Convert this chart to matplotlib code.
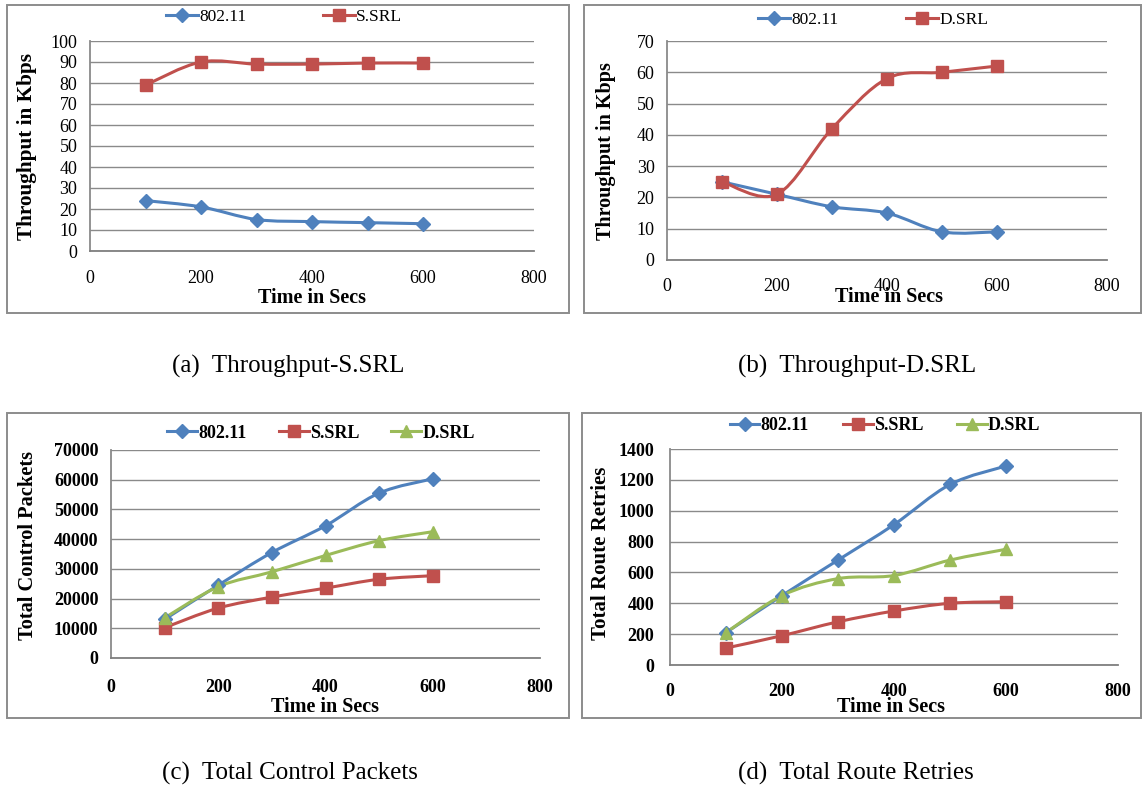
import numpy as np
import matplotlib
matplotlib.use('Agg')
import matplotlib.pyplot as plt
from matplotlib.path import Path
from matplotlib.patches import PathPatch, Rectangle

W, H = 1143, 792

# ---------------- data ----------------
time_secs = [100, 200, 300, 400, 500, 600]
x_ticks = [0, 200, 400, 600, 800]

tp_a_80211 = [24, 21, 15, 14, 13.5, 13]
tp_a_ssrl = [79, 90, 89, 89, 89.5, 89.5]

tp_b_80211 = [25, 21, 17, 15, 9, 9]
tp_b_dsrl = [25, 21, 42, 58, 60, 62]

cp_80211 = [13000, 24500, 35500, 44500, 55500, 60300]
cp_ssrl = [10200, 16800, 20500, 23500, 26500, 27700]
cp_dsrl = [13500, 24000, 29000, 34500, 39500, 42500]

rr_80211 = [210, 450, 680, 910, 1170, 1290]
rr_ssrl = [110, 190, 280, 350, 400, 410]
rr_dsrl = [210, 450, 560, 580, 680, 750]

captions = ["(a)  Throughput-S.SRL", "(b)  Throughput-D.SRL",
            "(c)  Total Control Packets", "(d)  Total Route Retries"]

BLUE = '#4F81BD'
RED = '#C0504D'
GREEN = '#9BBB59'
GRID = '#8a8a8a'
SERIF = 'Liberation Serif'

fig = plt.figure(figsize=(W / 100, H / 100), dpi=100)


def rect(x0, y0, x1, y1):
    return [x0 / W, 1 - y1 / H, (x1 - x0) / W, (y1 - y0) / H]


def smooth_line(ax, xs, ys, color, lw=2.2):
    """Excel-style smoothed line drawn as cubic Bezier through the data points."""
    P = np.column_stack([xs, ys]).astype(float)
    n = len(P)
    verts = [P[0]]
    codes = [Path.MOVETO]
    for i in range(n - 1):
        p_prev = P[i - 1] if i > 0 else P[i]
        p_next2 = P[i + 2] if i + 2 < n else P[i + 1]
        c1 = P[i] + (P[i + 1] - p_prev) / 6.0
        c2 = P[i + 1] - (p_next2 - P[i]) / 6.0
        verts += [c1, c2, P[i + 1]]
        codes += [Path.CURVE4] * 3
    patch = PathPatch(Path(verts, codes), facecolor='none', edgecolor=color,
                      lw=lw, capstyle='round', joinstyle='round', zorder=3)
    ax.add_patch(patch)


def series(ax, xs, ys, color, marker, ms, label):
    smooth_line(ax, xs, ys, color)
    ax.plot(xs, ys, linestyle='none', marker=marker, ms=ms, color=color,
            mec=color, zorder=4)
    # legend proxy
    ax.plot([], [], color=color, lw=2.2, marker=marker, ms=ms, mec=color,
            label=label)


def setup(ax, ymax, ystep, bold, tick_fs, xpad, ypad):
    ax.set_xlim(0, 800)
    ax.set_ylim(0, ymax)
    ax.set_xticks(x_ticks)
    ax.set_yticks(np.arange(0, ymax + ystep / 2, ystep))
    ax.yaxis.grid(True, color=GRID, lw=1.0)
    ax.set_axisbelow(True)
    for s in ['top', 'right']:
        ax.spines[s].set_visible(False)
    ax.spines['left'].set_color(GRID)
    ax.spines['bottom'].set_color('#7f7f7f')
    ax.spines['left'].set_linewidth(1.3)
    ax.spines['bottom'].set_linewidth(1.3)
    ax.tick_params(length=0)
    ax.tick_params(axis='x', pad=xpad)
    ax.tick_params(axis='y', pad=ypad)
    for lab in ax.get_xticklabels() + ax.get_yticklabels():
        lab.set_fontfamily(SERIF)
        lab.set_fontsize(tick_fs)
        lab.set_fontweight('bold' if bold else 'normal')
    ax.set_facecolor('none')


def labels(ax, ylab, ylx, yly, xlx, xly, xfs, yfs):
    ax.set_xlabel("Time in Secs", fontfamily=SERIF, fontweight='bold', fontsize=xfs)
    ax.set_ylabel(ylab, fontfamily=SERIF, fontweight='bold', fontsize=yfs)
    ax.xaxis.set_label_coords(xlx, xly)
    ax.xaxis.label.set_va('center')
    ax.yaxis.set_label_coords(ylx, yly)
    ax.yaxis.label.set_va('center')


def legend(ax, cx, cy, bold, fs, hl, colsp, ncol):
    leg = ax.legend(loc='center', bbox_to_anchor=(cx / W, 1 - cy / H),
                    bbox_transform=fig.transFigure, ncol=ncol, frameon=False,
                    handlelength=hl, handletextpad=0.05, columnspacing=colsp,
                    prop={'family': SERIF, 'size': fs,
                          'weight': 'bold' if bold else 'normal'})
    return leg


# panel borders
for (x0, y0, x1, y1) in [(7, 5, 569, 313), (584, 5, 1141, 313),
                         (7, 413, 569, 718), (582, 413, 1141, 718)]:
    fig.add_artist(Rectangle((x0 / W, 1 - y1 / H), (x1 - x0) / W, (y1 - y0) / H,
                             transform=fig.transFigure, fill=False,
                             edgecolor='#8c8c8c', lw=1.4))

# (a)
ax = fig.add_axes(rect(90, 41, 534, 251))
series(ax, time_secs, tp_a_80211, BLUE, 'D', 7.5, '802.11')
series(ax, time_secs, tp_a_ssrl, RED, 's', 8.5, 'S.SRL')
setup(ax, 100, 10, False, 13, 14, 9)
labels(ax, "Throughput in Kbps", -0.141, 0.5, 0.5, -0.224, 14.5, 15.3)
legend(ax, 284, 17, False, 12.5, 1.85, 4.4, 2)

# (b)
ax = fig.add_axes(rect(667, 41, 1107, 260))
series(ax, time_secs, tp_b_80211, BLUE, 'D', 7.5, '802.11')
series(ax, time_secs, tp_b_dsrl, RED, 's', 8.5, 'D.SRL')
setup(ax, 70, 10, False, 13, 13, 9)
labels(ax, "Throughput in Kbps", -0.139, 0.497, 0.505, -0.169, 14.5, 14.5)
legend(ax, 873, 20, False, 12.5, 1.85, 3.9, 2)

# (c)
ax = fig.add_axes(rect(111, 450, 540, 658))
series(ax, time_secs, cp_80211, BLUE, 'D', 7.5, '802.11')
series(ax, time_secs, cp_ssrl, RED, 's', 8.5, 'S.SRL')
series(ax, time_secs, cp_dsrl, GREEN, '^', 9, 'D.SRL')
setup(ax, 70000, 10000, True, 13, 15, 9)
labels(ax, "Total Control Packets", -0.193, 0.543, 0.499, -0.236, 14.5, 14.7)
legend(ax, 321, 433, True, 13, 1.65, 1.8, 3)

# (d)
ax = fig.add_axes(rect(670, 449, 1118, 665))
series(ax, time_secs, rr_80211, BLUE, 'D', 7.5, '802.11')
series(ax, time_secs, rr_ssrl, RED, 's', 8.5, 'S.SRL')
series(ax, time_secs, rr_dsrl, GREEN, '^', 9, 'D.SRL')
setup(ax, 1400, 200, True, 13, 13, 11.5)
labels(ax, "Total Route Retries", -0.154, 0.519, 0.493, -0.194, 14.5, 15)
legend(ax, 885, 426, True, 13, 1.65, 1.9, 3)

# captions
for (cx, cy), txt in zip([(288, 366), (857, 366), (290, 773), (856, 773)], captions):
    fig.text(cx / W, 1 - cy / H, txt, ha='center', va='center',
             fontfamily=SERIF, fontsize=18)

fig.savefig('out.png', dpi=100, facecolor='white')
